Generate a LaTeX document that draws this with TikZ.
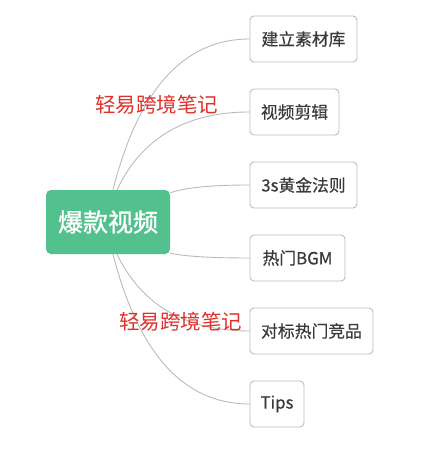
\documentclass[tikz,border=0pt]{standalone}
\usepackage{fontspec}
\newfontfamily\cjk{Noto Sans CJK SC}
\newfontfamily\cjkroot[FakeBold=1.3]{Noto Sans CJK SC}
\newfontfamily\cjkleaf[FakeBold=0.4]{Noto Sans CJK SC}
\usetikzlibrary{calc}
\definecolor{rootgreen}{HTML}{52C18D}
\definecolor{linegray}{HTML}{BBBBBB}
\definecolor{boxgray}{HTML}{BDBDBD}
\definecolor{txtgray}{HTML}{3A3A3A}
\definecolor{wmred}{HTML}{E0302B}
\newcommand{\mmlink}[2]{%
  \coordinate (tmpm) at ($(#1)!0.28!(#2)$);
  \coordinate (tmpc) at (tmpm |- #2);
  \draw[link] (#1) .. controls ($(#1)!2/3!(tmpc)$) and ($(#2)!2/3!(tmpc)$) .. (#2);}
\begin{document}
\begin{tikzpicture}[x=1pt,y=-1pt,
  leaf/.style={draw=boxgray, line width=0.9pt, rounded corners=4pt, minimum height=46pt, inner sep=0pt, text=txtgray, font=\cjkleaf\fontsize{16.8}{20}\selectfont},
  rootbox/.style={fill=rootgreen, rounded corners=5pt, minimum width=124pt, minimum height=64pt, inner sep=0pt, text=white, font=\cjkroot\fontsize{25}{29}\selectfont},
  link/.style={draw=linegray, line width=0.9pt},
  watermark/.style={text=wmred, inner sep=0pt, font=\cjk\fontsize{20.5}{24}\selectfont}]
\useasboundingbox[fill=white] (0,0) rectangle (432,449);
\node[rootbox] (root) at (108,222) {爆款视频};
\node[leaf, minimum width=107pt] (b1) at (303.5,39) {\raisebox{-1pt}{建立素材库}};
\node[leaf, minimum width=89pt] (b2) at (294.5,112) {\raisebox{-1pt}{视频剪辑}};
\node[leaf, minimum width=107pt] (b3) at (303.5,185) {\raisebox{-1pt}{3s黄金法则}};
\node[leaf, minimum width=95pt] (b4) at (297.5,258) {\raisebox{-1pt}{热门BGM}};
\node[leaf, minimum width=123pt] (b5) at (311.5,331) {\raisebox{-1pt}{对标热门竞品}};
\node[leaf, minimum width=54pt] (b6) at (277,404) {\raisebox{-1pt}{Tips}};
\coordinate (s1) at ($(root.north)+(5,0)$);
\coordinate (s2) at ($(root.north)+(9,0)$);
\coordinate (s3) at ($(root.north east)+(0,3)$);
\coordinate (s4) at ($(root.south east)+(0,-1)$);
\coordinate (s5) at ($(root.south)+(9,0)$);
\coordinate (s6) at ($(root.south)+(5,0)$);
\coordinate (e1) at (b1.west);
\coordinate (e2) at (b2.west);
\coordinate (e3) at (b3.west);
\coordinate (e4) at (b4.west);
\coordinate (e5) at (b5.west);
\coordinate (e6) at (b6.west);
\mmlink{s1}{e1}
\mmlink{s2}{e2}
\mmlink{s3}{e3}
\mmlink{s4}{e4}
\mmlink{s5}{e5}
\mmlink{s6}{e6}
\node[watermark] (w1) at (156.5,105) {轻易跨境笔记};
\node[watermark] (w2) at (180.5,322) {轻易跨境笔记};
\end{tikzpicture}
\end{document}
